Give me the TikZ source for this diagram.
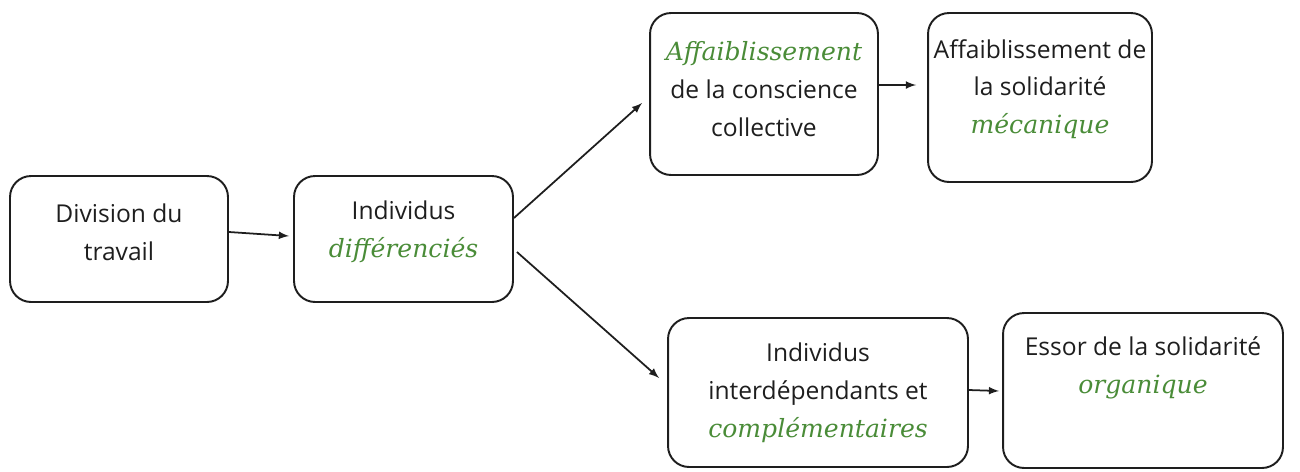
\documentclass[tikz,border=0pt]{standalone}
\usepackage{fontspec}
\setmainfont{Open Sans}
\newfontfamily\serifit{DejaVu Serif}[Scale=1.02]
\definecolor{vertfonce}{RGB}{74,140,56}
\definecolor{encre}{RGB}{30,30,30}
\newcommand{\verte}[1]{{\color{vertfonce}\serifit\itshape #1}}

\begin{document}
\begin{tikzpicture}[%
      x=0.02cm, y=-0.02cm,
      >=latex,
      boite/.style={draw=encre, line width=1.1pt, rounded corners=0.42cm},
      texte/.style={align=center, text=encre, font=\fontsize{14}{21.5}\selectfont},
      fleche/.style={->, draw=encre, line width=1pt},
      ]
      \useasboundingbox (0,0) rectangle (1300,471);

      \node [boite, minimum width=4.36cm, minimum height=2.52cm] (division) at (119,239) {};
      \node [boite, minimum width=4.38cm, minimum height=2.52cm] (differencies) at (403.5,239) {};
      \node [boite, minimum width=4.56cm, minimum height=3.24cm] (conscience) at (764,94) {};
      \node [boite, minimum width=4.48cm, minimum height=3.38cm] (mecanique) at (1040,97.5) {};
      \node [boite, minimum width=6.00cm, minimum height=2.98cm] (interdep) at (818,392.5) {};
      \node [boite, minimum width=5.60cm, minimum height=3.10cm] (organique) at (1143,390.5) {};

      \node [texte] (t-division) at (119,232) {Division du\\travail};
      \node [texte] (t-differencies) at (403.5,232) {Individus\\\verte{différenciés}};
      \node [texte] (t-conscience) at (764,89) {\verte{Affaiblissement}\\de la conscience\\collective};
      \node [texte] (t-mecanique) at (1040,89) {Affaiblissement de\\la solidarité\\\verte{mécanique}};
      \node [texte] (t-interdep) at (818,393) {Individus\\interdépendants et\\\verte{complémentaires}};
      \node [texte] (t-organique) at (1143,368) {Essor de la solidarité\\\verte{organique}};

      \draw [fleche] ([shift={(0,-7)}]division.east) -- ([shift={(-4,-3)}]differencies.west);
      \draw [fleche] ([shift={(0,-21)}]differencies.east) -- ([shift={(-7,9)}]conscience.west);
      \draw [fleche] ([shift={(3,13)}]differencies.east) -- ([shift={(-8,-14.5)}]interdep.west);
      \draw [fleche] ([shift={(0,-9)}]conscience.east) -- ([shift={(-11,-12.5)}]mecanique.west);
      \draw [fleche] ([shift={(0,-2.5)}]interdep.east) -- ([shift={(-3,0.5)}]organique.west);
\end{tikzpicture}
\end{document}
